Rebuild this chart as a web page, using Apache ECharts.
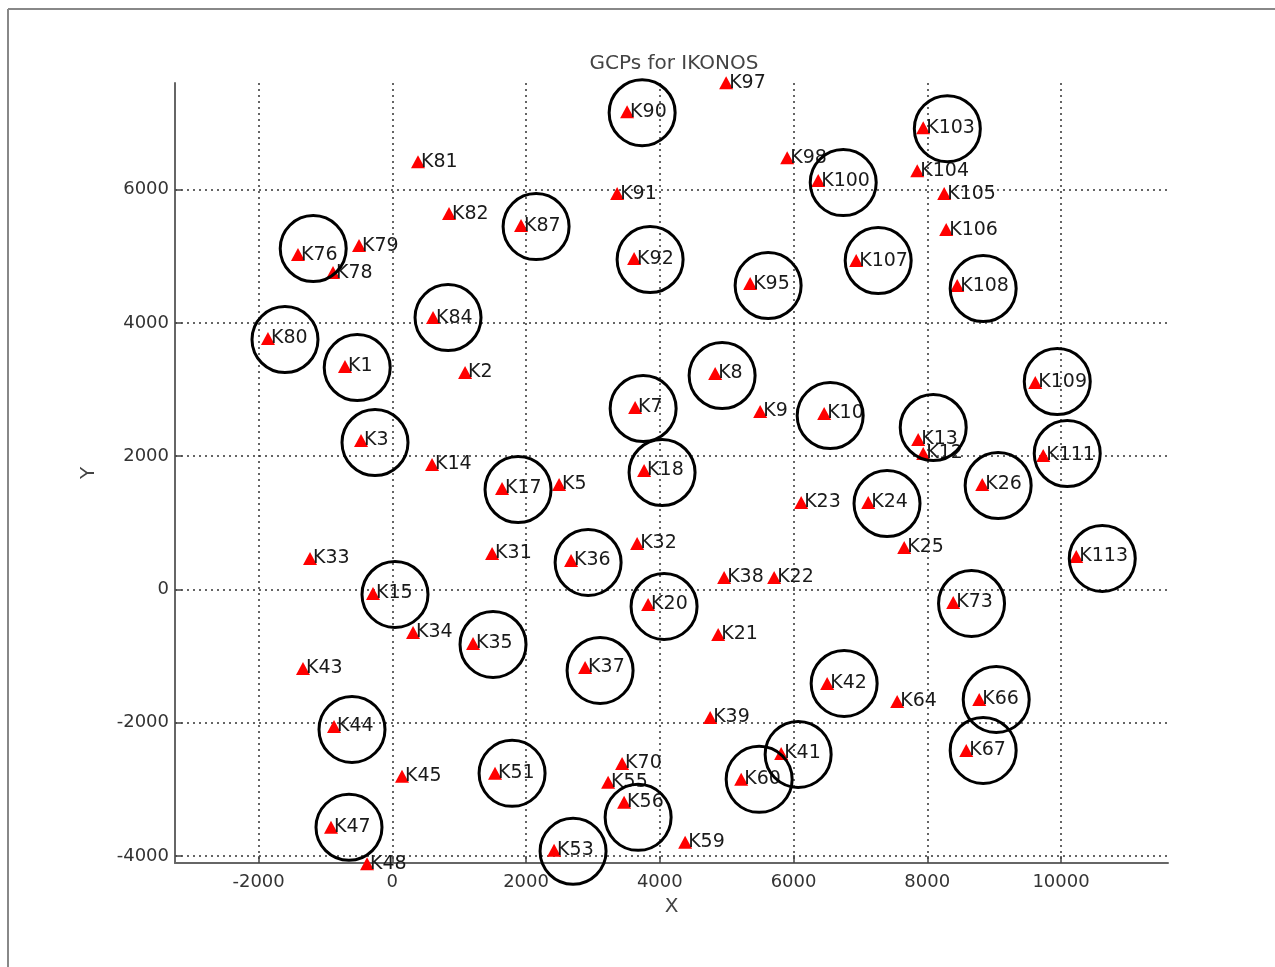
<!DOCTYPE html>
<html>
<head>
<meta charset="utf-8">
<title>GCPs for IKONOS</title>
<script src="https://cdn.jsdelivr.net/npm/echarts@6/dist/echarts.min.js"></script>
<style>
  html, body { margin: 0; padding: 0; background: #fff; }
  #main { width: 1275px; height: 967px; }
</style>
</head>
<body>
<div id="main"></div>
<script>
// GCP positions (red triangles)
var gcpNames = ['K1', 'K2', 'K3', 'K5', 'K7', 'K8', 'K9', 'K10', 'K12', 'K13',
  'K14', 'K15', 'K17', 'K18', 'K20', 'K21', 'K22', 'K23', 'K24', 'K25',
  'K26', 'K31', 'K32', 'K33', 'K34', 'K35', 'K36', 'K37', 'K38', 'K39',
  'K41', 'K42', 'K43', 'K44', 'K45', 'K47', 'K48', 'K51', 'K53', 'K55',
  'K56', 'K59', 'K60', 'K64', 'K66', 'K67', 'K70', 'K73', 'K76', 'K78',
  'K79', 'K80', 'K81', 'K82', 'K84', 'K87', 'K90', 'K91', 'K92', 'K95',
  'K97', 'K98', 'K100', 'K103', 'K104', 'K105', 'K106', 'K107', 'K108', 'K109',
  'K111', 'K113']
var gcpX = [-708, 1088, -468, 2494, 3631, 4828, 5501, 6458, 7939, 7864,
  594, -289, 1641, 3765, 3825, 4873, 5710, 6114, 7117, 7655,
  8822, 1492, 3661, -1231, 310, 1207, 2673, 2883, 4962, 4753,
  5815, 6503, -1336, -872, 145, -917, -378, 1536, 2419, 3227,
  3466, 4379, 5217, 7550, 8777, 8583, 3436, 8388, -1411, -887,
  -498, -1860, 384, 848, 609, 1925, 3511, 3362, 3616, 5351,
  4992, 5905, 6369, 7939, 7850, 8253, 8283, 6937, 8448, 9615,
  9734, 10228]
var gcpY = [3345, 3255, 2235, 1575, 2730, 3240, 2670, 2640, 2040, 2250,
  1875, -60, 1515, 1785, -225, -675, 180, 1305, 1305, 630,
  1575, 540, 690, 465, -645, -810, 435, -1170, 180, -1920,
  -2460, -1410, -1185, -2055, -2805, -3570, -4115, -2760, -3915, -2895,
  -3195, -3795, -2850, -1680, -1650, -2415, -2610, -195, 5025, 4755,
  5160, 3765, 6420, 5640, 4080, 5460, 7170, 5940, 4965, 4590,
  7605, 6480, 6135, 6930, 6285, 5940, 5400, 4935, 4560, 3105,
  2010, 495]

// circled points
var ringNames = ['K1', 'K3', 'K7', 'K8', 'K10', 'K13', 'K15', 'K17', 'K18', 'K20',
  'K24', 'K26', 'K35', 'K36', 'K37', 'K41', 'K42', 'K44', 'K47', 'K51',
  'K53', 'K56', 'K60', 'K66', 'K67', 'K73', 'K76', 'K80', 'K84', 'K87',
  'K90', 'K92', 'K95', 'K100', 'K103', 'K107', 'K108', 'K109', 'K111', 'K113']
var ringX = [-525, -259, 3751, 4932, 6548, 8089, 40, 1880, 4034, 4064,
  7398, 9060, 1506, 2928, 3107, 6069, 6757, -603, -648, 1791,
  2703, 3676, 5486, 9031, 8836, 8662, -1183, -1605, 833, 2150,
  3736, 3855, 5620, 6743, 8300, 7266, 8836, 9944, 10093, 10617]
var ringY = [3330, 2205, 2715, 3210, 2610, 2430, -75, 1500, 1755, -255,
  1290, 1560, -825, 405, -1215, -2475, -1410, -2100, -3570, -2760,
  -3930, -3420, -2850, -1650, -2415, -210, 5115, 3750, 4080, 5445,
  7155, 4950, 4560, 6105, 6915, 4935, 4515, 3120, 2040, 465]

var xTicks = [-2000, 0, 2000, 4000, 6000, 8000, 10000]
var yTicks = [-4000, -2000, 0, 2000, 4000, 6000]

var gcpData = gcpNames.map(function (n, i) { return { name: n, value: [gcpX[i], gcpY[i]] } })
var ringData = ringNames.map(function (n, i) { return { name: n, value: [ringX[i], ringY[i]] } })

var font = 'DejaVu Sans'
var chart = echarts.init(document.getElementById('main'))

var axisCommon = {
  type: 'value',
  nameLocation: 'middle',
  nameTextStyle: { fontFamily: font, fontSize: 20, color: '#444' },
  axisLine: { show: true, onZero: false, lineStyle: { color: '#666', width: 2 } },
  axisTick: { show: true, inside: true, length: 7, lineStyle: { color: '#444', width: 1.5 } },
  axisLabel: {
    fontFamily: font, fontSize: 18, color: '#333',
    formatter: function (v) { return String(v) }
  },
  splitLine: { show: true, lineStyle: { color: '#333', width: 1.5, type: [2, 4] } }
}

chart.setOption({
  backgroundColor: '#fff',
  animation: false,
  title: {
    text: 'GCPs for IKONOS',
    left: 669,
    textAlign: 'center',
    top: 49,
    textStyle: { fontFamily: font, fontSize: 20, fontWeight: 'normal', color: '#444' }
  },
  grid: { left: 175, right: 107, top: 83, bottom: 104 },
  xAxis: echarts.util.merge({
    name: 'X',
    nameGap: 34,
    min: -3250,
    max: 11600,
    axisTick: { customValues: xTicks },
    axisLabel: { customValues: xTicks, margin: 10 }
  }, axisCommon),
  yAxis: echarts.util.merge({
    name: 'Y',
    nameGap: 76,
    min: -4105,
    max: 7600,
    axisTick: { customValues: yTicks },
    axisLabel: { customValues: yTicks, margin: 6 }
  }, axisCommon),
  graphic: [
    { type: 'line', shape: { x1: 8, y1: 9, x2: 1275, y2: 9 }, style: { stroke: '#888', lineWidth: 2 } },
    { type: 'line', shape: { x1: 8, y1: 9, x2: 8, y2: 967 }, style: { stroke: '#888', lineWidth: 2 } }
  ],
  series: [
    {
      name: 'GCP',
      type: 'scatter',
      clip: false,
      symbol: 'triangle',
      symbolSize: [14, 13],
      itemStyle: { color: '#ff0000', opacity: 1 },
      label: {
        show: true,
        position: 'right',
        distance: -4,
        formatter: '{b}',
        fontFamily: font,
        fontSize: 19,
        color: '#1a1a1a'
      },
      data: gcpData,
      z: 3
    },
    {
      name: 'Check',
      type: 'scatter',
      clip: false,
      symbol: 'circle',
      symbolSize: 66,
      itemStyle: { color: 'rgba(0,0,0,0)', borderColor: '#000', borderWidth: 3, opacity: 1 },
      data: ringData,
      z: 4
    }
  ]
})
</script>
</body>
</html>
